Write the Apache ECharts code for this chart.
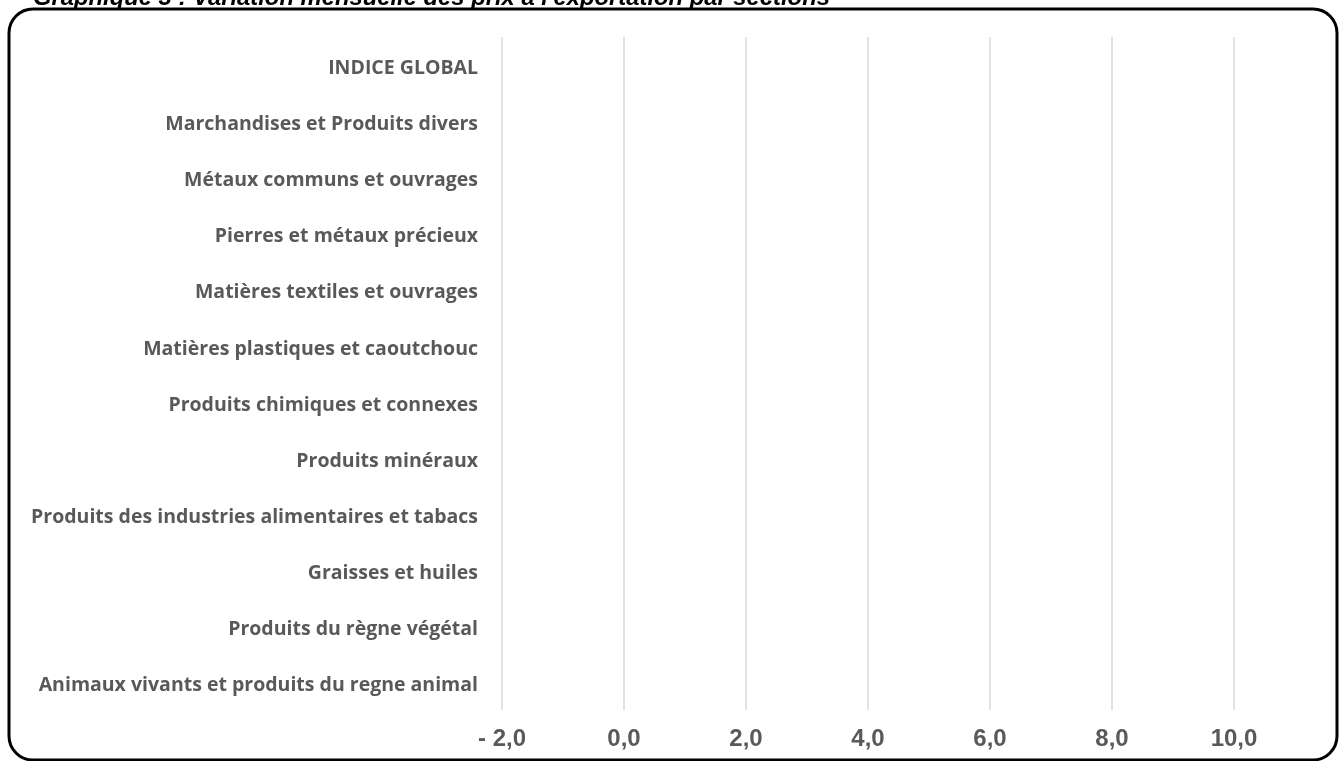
<!DOCTYPE html>
<html>
<head>
<meta charset="utf-8">
<script src="https://cdn.jsdelivr.net/npm/echarts@6/dist/echarts.min.js"></script>
<style>
html,body{margin:0;padding:0;background:#fff;}
#chart{width:1339px;height:761px;}
</style>
</head>
<body>
<div id="chart"></div>
<script>
const titleText = "Graphique 3 : Variation mensuelle des prix à l'exportation par sections";
// categories listed bottom to top
const categories = [
  "Animaux vivants et produits du regne animal",
  "Produits du règne végétal",
  "Graisses et huiles",
  "Produits des industries alimentaires et tabacs",
  "Produits minéraux",
  "Produits chimiques et connexes",
  "Matières plastiques et caoutchouc",
  "Matières textiles et ouvrages",
  "Pierres et métaux précieux",
  "Métaux communs et ouvrages",
  "Marchandises et Produits divers",
  "INDICE GLOBAL"
];
// no bars are visible in the reference: values absent
const variation = [null, null, null, null, null, null, null, null, null, null, null, null];
const xTicks = [-2, 0, 2, 4, 6, 8, 10];

const chart = echarts.init(document.getElementById('chart'), null, {renderer: 'canvas'});
chart.setOption({
  backgroundColor: '#ffffff',
  animation: false,
  title: {
    text: titleText,
    left: 33,
    top: -14,
    padding: 0,
    textStyle: {
      fontFamily: 'Liberation Sans',
      fontStyle: 'italic',
      fontWeight: 'bold',
      fontSize: 23.8,
      color: '#000'
    }
  },
  graphic: [{
    type: 'rect',
    z: -1,
    shape: {x: 9, y: 9, width: 1328, height: 751, r: 24},
    style: {fill: 'none', stroke: '#000', lineWidth: 3}
  }],
  grid: {left: 502, right: 105, top: 37, bottom: 51, containLabel: false},
  xAxis: {
    type: 'value',
    min: xTicks[0],
    max: xTicks[xTicks.length - 1],
    interval: 2,
    axisLine: {show: false},
    axisTick: {show: false},
    splitLine: {show: true, lineStyle: {color: '#d9d9d9', width: 1.5}},
    axisLabel: {
      margin: 17,
      fontFamily: 'Liberation Sans',
      fontWeight: 'bold',
      fontSize: 24,
      color: '#595959',
      formatter: function (v) {
        const s = Math.abs(v).toFixed(1).replace('.', ',');
        return v < 0 ? '- ' + s : s;
      }
    }
  },
  yAxis: {
    type: 'category',
    data: categories,
    axisLine: {show: false},
    axisTick: {show: false},
    splitLine: {show: false},
    axisLabel: {
      margin: 24,
      formatter: function (v) { return '{c|' + v + '}'; },
      rich: {
        c: {
          padding: [7, 0, 0, 0],
          fontFamily: 'Open Sans',
          fontWeight: 'bold',
          fontSize: 19.5,
          color: '#595959'
        }
      }
    }
  },
  series: [{
    type: 'bar',
    data: variation,
    barWidth: '60%',
    itemStyle: {color: '#4472c4'}
  }]
});
</script>
</body>
</html>
